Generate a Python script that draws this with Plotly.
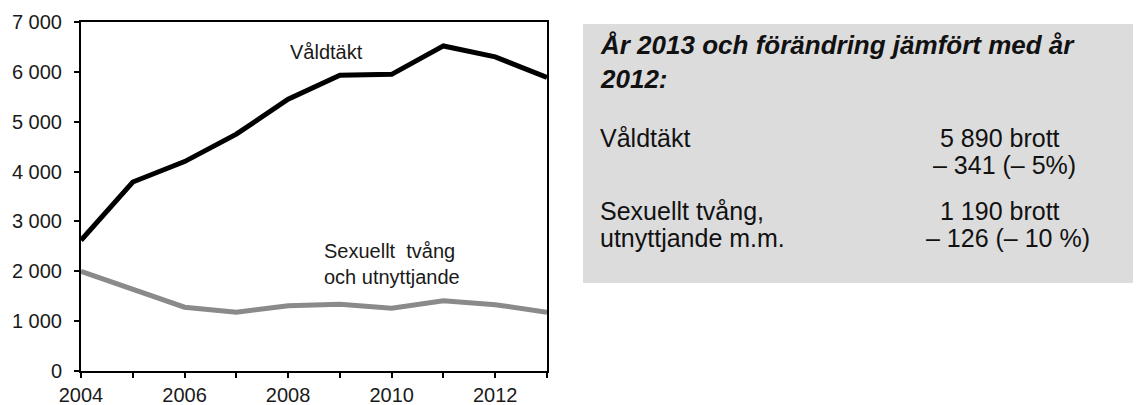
import plotly.graph_objects as go

years = [2004, 2005, 2006, 2007, 2008, 2009, 2010, 2011, 2012, 2013]
valdtakt = [2620, 3790, 4200, 4750, 5450, 5930, 5950, 6520, 6300, 5890]
sexuellt = [2000, 1650, 1280, 1180, 1310, 1340, 1260, 1410, 1330, 1180]

x_tick_vals = years
x_tick_text = ["2004", "", "2006", "", "2008", "", "2010", "", "2012", ""]
y_tick_vals = [0, 1000, 2000, 3000, 4000, 5000, 6000, 7000]
y_tick_text = ["0", "1 000", "2 000", "3 000", "4 000", "5 000", "6 000", "7 000"]

panel_title = "<b><i>År 2013 och förändring jämfört med år<br>2012:</i></b>"
panel_left = ["Våldtäkt", "Sexuellt tvång,", "utnyttjande m.m."]
panel_right = ["5 890 brott", "– 341 (– 5%)", "1 190 brott", "– 126 (– 10 %)"]

# window size and the page's default 8px body margin
WIN_W, WIN_H = 1141, 405
OFF = 8
W, H = WIN_W - OFF, WIN_H - OFF
# plot area in window pixels
L, R, T, B = 81, 547, 22, 371
FONT = "Liberation Sans, Arial, sans-serif"

def px(x):
    return (x - L) / (R - L)

def py(y):
    return (B - y) / (B - T)

fig = go.Figure()
fig.add_trace(go.Scatter(x=years, y=sexuellt, mode="lines",
                         line=dict(color="#8a8a8a", width=5), showlegend=False))
fig.add_trace(go.Scatter(x=years, y=valdtakt, mode="lines",
                         line=dict(color="#000000", width=5), showlegend=False))

fig.add_annotation(x=2008, y=6400, xref="x", yref="y", text="Våldtäkt",
                   showarrow=False, xanchor="left", yanchor="middle",
                   font=dict(family=FONT, size=20, color="#1a1a1a"))
fig.add_annotation(x=2008.65, y=2150, xref="x", yref="y",
                   text="Sexuellt  tvång<br>och utnyttjande",
                   showarrow=False, xanchor="left", yanchor="middle", align="left",
                   font=dict(family=FONT, size=20, color="#1a1a1a"))

# grey info panel
fig.add_shape(type="rect", xref="paper", yref="paper",
              x0=px(583), x1=px(1141), y0=py(283), y1=py(24),
              fillcolor="#dcdcdc", line=dict(width=0), layer="below")

fig.add_annotation(x=px(598), y=py(62), xref="paper", yref="paper", text=panel_title,
                   showarrow=False, xanchor="left", yanchor="middle", align="left",
                   font=dict(family=FONT, size=26, color="#111111"))

left_y = [138, 211, 238]
for t, yy in zip(panel_left, left_y):
    fig.add_annotation(x=px(598), y=py(yy), xref="paper", yref="paper", text=t,
                       showarrow=False, xanchor="left", yanchor="middle",
                       font=dict(family=FONT, size=25, color="#111111"))
right_x = [938, 931, 938, 924]
right_y = [138, 165, 211, 238]
for t, xx, yy in zip(panel_right, right_x, right_y):
    fig.add_annotation(x=px(xx), y=py(yy), xref="paper", yref="paper", text=t,
                       showarrow=False, xanchor="left", yanchor="middle",
                       font=dict(family=FONT, size=25, color="#111111"))

fig.update_layout(
    width=W, height=H,
    margin=dict(l=L - OFF, r=W - (R - OFF), t=T - OFF, b=H - (B - OFF),
                pad=0, autoexpand=False),
    paper_bgcolor="white", plot_bgcolor="white",
    font=dict(family=FONT, size=20, color="#1a1a1a"),
    xaxis=dict(range=[2004, 2013], tickvals=x_tick_vals, ticktext=x_tick_text,
               ticks="outside", ticklen=5, tickwidth=1.5, tickcolor="black",
               showline=True, linecolor="black", linewidth=2, mirror=True,
               showgrid=False, zeroline=False, tickfont=dict(size=20),
               automargin=False),
    yaxis=dict(range=[0, 7000], tickvals=y_tick_vals, ticktext=y_tick_text,
               ticks="outside", ticklen=5, tickwidth=1.5, tickcolor="black",
               showline=True, linecolor="black", linewidth=2, mirror=True,
               showgrid=False, zeroline=False, tickfont=dict(size=20),
               ticklabelstandoff=8, automargin=False),
)

fig.write_html("out.html")
